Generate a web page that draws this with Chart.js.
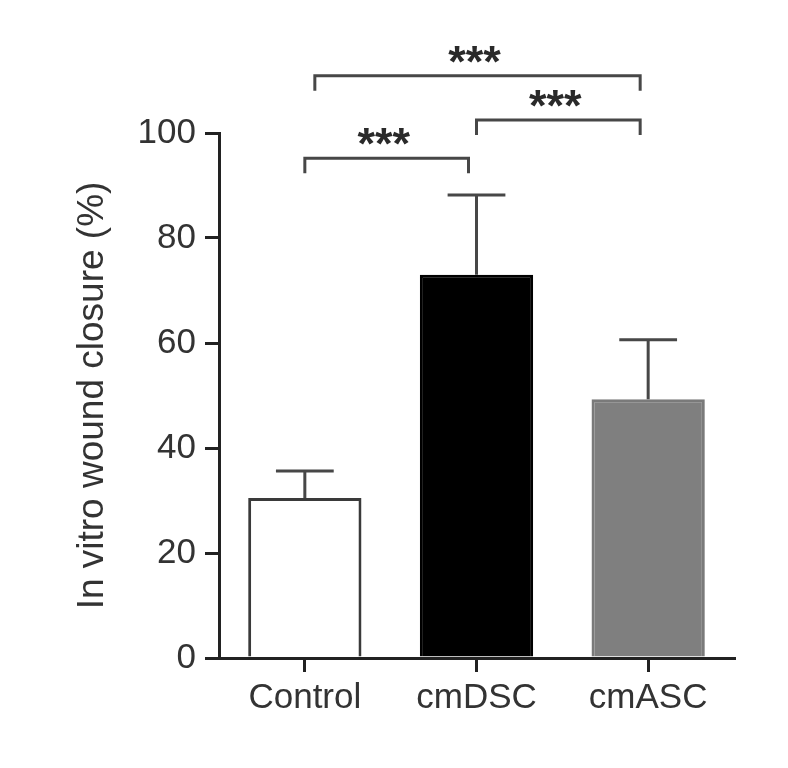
<!DOCTYPE html>
<html>
<head>
<meta charset="utf-8">
<script src="https://cdn.jsdelivr.net/npm/chart.js@4.4.1/dist/chart.umd.min.js"></script>
<style>
  html, body { margin: 0; padding: 0; background: #ffffff; }
  #wrap { width: 788px; height: 768px; }
</style>
</head>
<body>
<div id="wrap"><canvas id="c" width="788" height="768"></canvas></div>
<script>
// ---- data ----
const categories = ['Control', 'cmDSC', 'cmASC'];
const closureMeans = [30.5, 73.0, 49.3];
const closureErrors = [5.1, 15.2, 11.3];
const yTickValues = [0, 20, 40, 60, 80, 100];
const bracketFrom = [0, 1, 0];
const bracketTo = [2, 2, 1];
const bracketLevels = [110.9, 102.5, 95.2];
const bracketLabels = ['***', '***', '***'];

const AXIS = '#222222';
const INK = '#333333';

const errorBarPlugin = {
  id: 'errorBars',
  afterDatasetsDraw(chart) {
    const ctx = chart.ctx;
    const meta = chart.getDatasetMeta(0);
    const y = chart.scales.y;
    ctx.save();
    ctx.strokeStyle = '#474747';
    ctx.lineWidth = 3;
    meta.data.forEach((bar, i) => {
      const top = y.getPixelForValue(closureMeans[i] + closureErrors[i]);
      const base = y.getPixelForValue(closureMeans[i]);
      const half = bar.width * 0.255;
      ctx.beginPath();
      ctx.moveTo(bar.x, base);
      ctx.lineTo(bar.x, top);
      ctx.moveTo(bar.x - half, top);
      ctx.lineTo(bar.x + half, top);
      ctx.stroke();
    });
    ctx.restore();
  }
};

const bracketPlugin = {
  id: 'sigBrackets',
  afterDraw(chart) {
    const ctx = chart.ctx;
    const x = chart.scales.x;
    const y = chart.scales.y;
    ctx.save();
    ctx.strokeStyle = '#474747';
    ctx.lineWidth = 3;
    ctx.fillStyle = '#2a2a2a';
    ctx.font = 'bold 45px "Liberation Sans", Arial, sans-serif';
    ctx.textAlign = 'center';
    ctx.textBaseline = 'alphabetic';
    bracketLevels.forEach((lvl, i) => {
      const x1 = x.getPixelForValue(bracketFrom[i]) + (i === 0 ? 10 : 0);
      const x2 = x.getPixelForValue(bracketTo[i]) - 8;
      const yy = y.getPixelForValue(lvl);
      const drop = 15;
      ctx.beginPath();
      ctx.moveTo(x1, yy + drop);
      ctx.lineTo(x1, yy);
      ctx.lineTo(x2, yy);
      ctx.lineTo(x2, yy + drop);
      ctx.stroke();
      ctx.fillText(bracketLabels[i], (x1 + x2) / 2 - 3, yy + 1);
    });
    ctx.restore();
  }
};

new Chart(document.getElementById('c'), {
  type: 'bar',
  data: {
    labels: categories,
    datasets: [{
      data: closureMeans,
      backgroundColor: ['#ffffff', '#000000', '#7f7f7f'],
      borderColor: ['#3a3a3a', '#000000', '#7a7a7a'],
      borderWidth: 3,
      borderSkipped: 'start',
      categoryPercentage: 1.0,
      barPercentage: 0.66
    }]
  },
  options: {
    responsive: false,
    animation: false,
    devicePixelRatio: 1,
    layout: { padding: { top: 133, right: 54, bottom: 0, left: 0 } },
    plugins: { legend: { display: false }, tooltip: { enabled: false } },
    scales: {
      x: {
        offset: true,
        afterFit(scale) { scale.height = 110; },
        grid: { display: true, offset: false, drawOnChartArea: false, drawTicks: true, tickLength: 14, lineWidth: 3, color: AXIS },
        border: { display: true, width: 3, color: AXIS },
        ticks: { color: INK, padding: 5, font: { family: '"Liberation Sans", Arial, sans-serif', size: 35 } }
      },
      y: {
        min: 0,
        max: 100,
        afterFit(scale) { scale.width = 219; },
        afterBuildTicks(scale) { scale.ticks = yTickValues.map(v => ({ value: v })); },
        grid: { display: true, drawOnChartArea: false, drawTicks: true, tickLength: 14, lineWidth: 3, color: AXIS },
        border: { display: true, width: 3, color: AXIS },
        ticks: { color: INK, padding: 9, font: { family: '"Liberation Sans", Arial, sans-serif', size: 35 } },
        title: {
          display: true,
          text: 'In vitro wound closure (%)',
          color: INK,
          padding: { top: 71, bottom: 0 },
          font: { family: '"Liberation Sans", Arial, sans-serif', size: 37 }
        }
      }
    }
  },
  plugins: [errorBarPlugin, bracketPlugin]
});
</script>
</body>
</html>
